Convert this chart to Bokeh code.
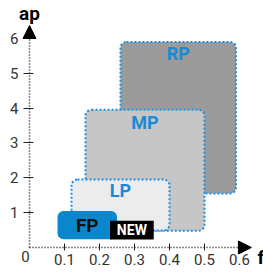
from bokeh.plotting import figure
from bokeh.models import ColumnDataSource, Arrow, NormalHead, Label, FixedTicker, Range1d
from bokeh.core.properties import value
from bokeh.embed import file_html
from bokeh.resources import INLINE

# ---- data ----
names = ["RP", "MP", "LP", "FP"]
f_min = [0.26, 0.16, 0.12, 0.08]
f_max = [0.59, 0.50, 0.40, 0.25]
ap_min = [1.55, 0.48, 0.49, 0.24]
ap_max = [5.90, 3.95, 1.95, 1.05]
fills = ["#9b9b9b", "#c6c6c6", "#ececec", "#0a87cc"]
borders = ["#1f8fe0", "#1f8fe0", "#1f8fe0", "#0a87cc"]
border_alpha = [1, 1, 1, 0]
label_colors = ["#1a8ad6", "#1a8ad6", "#1a8ad6", "#111111"]

new_f = [0.23, 0.355]
new_ap = [0.23, 0.77]

x_ticks = [0.1, 0.2, 0.3, 0.4, 0.5, 0.6]
y_ticks = [1, 2, 3, 4, 5, 6]
x_axis_end = 0.634
y_axis_end = 6.37

FONT = "Roboto"
XS = 350.0    # px per unit f
YS = 34.85    # px per unit ap

p = figure(width=263, height=272, output_backend="svg", toolbar_location=None,
           x_range=Range1d(-29 / XS, 234 / XS), y_range=Range1d(-25 / YS, 247 / YS),
           min_border_left=0, min_border_right=0, min_border_top=0, min_border_bottom=0)
p.outline_line_color = None
p.grid.visible = False
p.background_fill_color = "white"

for ax, ticks in ((p.xaxis, x_ticks), (p.yaxis, y_ticks)):
    ax.ticker = FixedTicker(ticks=ticks)
    ax.fixed_location = 0
    ax.axis_line_color = None
    ax.major_tick_line_color = "#222222"
    ax.major_tick_line_width = 1
    ax.minor_tick_line_color = None
    ax.major_label_text_font = FONT
    ax.major_label_text_font_size = "15px"
    ax.major_label_text_color = "#333333"
p.xaxis.major_tick_in = 4
p.xaxis.major_tick_out = 3
p.xaxis.major_label_standoff = 3
p.yaxis.major_tick_in = 4
p.yaxis.major_tick_out = 6
p.yaxis.major_label_standoff = 5
p.yaxis.major_label_overrides = {t: str(t) for t in y_ticks}

src = ColumnDataSource(dict(left=f_min, right=f_max, bottom=ap_min, top=ap_max,
                            fill=fills, line=borders, la=border_alpha, name=names,
                            lc=label_colors, yoff=[12, 13, 11, 15],
                            tsize=["18px", "18px", "18px", "19px"],
                            cx=[(a + b) / 2 for a, b in zip(f_min, f_max)]))
p.quad(left="left", right="right", bottom="bottom", top="top", source=src,
       fill_color="fill", line_color="line", line_alpha="la", line_width=2,
       line_dash="2 2", border_radius=6)

p.quad(left=[new_f[0]], right=[new_f[1]], bottom=[new_ap[0]], top=[new_ap[1]],
       fill_color="black", line_color=None)

p.text(x="cx", y="top", text="name", source=src, text_align="center",
       text_baseline="middle", y_offset="yoff",
       text_color="lc", text_font=value(FONT), text_font_style="bold",
       text_font_size="tsize")
p.text(x=[sum(new_f) / 2], y=[sum(new_ap) / 2], text=["NEW"], text_align="center",
       text_baseline="middle", text_color="white", text_font=value(FONT),
       text_font_style="bold", text_font_size="14px")

p.add_layout(Arrow(x_start=0, y_start=0, x_end=0, y_end=y_axis_end,
                   line_color="#111111", line_width=1.5, line_dash="1 2",
                   end=NormalHead(size=13, fill_color="black", line_color="black")))
p.add_layout(Arrow(x_start=0, y_start=0, x_end=x_axis_end, y_end=0,
                   line_color="#111111", line_width=1.5, line_dash="1 2",
                   end=NormalHead(size=13, fill_color="black", line_color="black")))

p.add_layout(Label(x=0, y=y_axis_end, y_offset=12, text="ap", text_align="center",
                   text_baseline="alphabetic", text_font=FONT, text_font_style="bold",
                   text_font_size="19px", text_color="black"))
p.add_layout(Label(x=x_axis_end, y=0, x_offset=6, y_offset=-10, text="f", text_align="left",
                   text_baseline="alphabetic", text_font=FONT, text_font_style="bold",
                   text_font_size="19px", text_color="black"))
p.add_layout(Label(x=0, y=0, x_offset=-4, y_offset=-9, text="0", text_align="center",
                   text_baseline="middle", text_font=FONT,
                   text_font_size="15px", text_color="#333333"))

open("out.html", "w").write(file_html(p, INLINE))
